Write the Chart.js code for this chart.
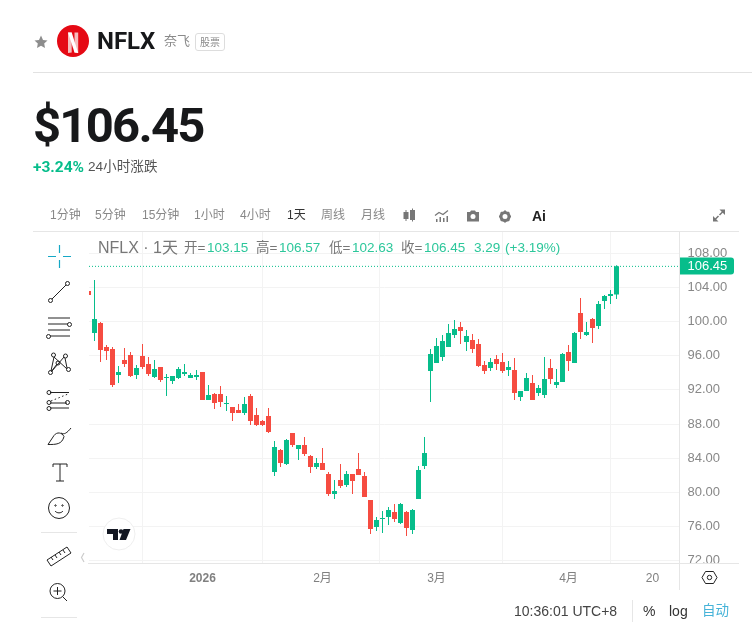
<!DOCTYPE html>
<html lang="zh"><head><meta charset="utf-8">
<script src="https://cdn.jsdelivr.net/npm/chart.js@4/dist/chart.umd.min.js"></script>
<style>
html,body{margin:0;padding:0;background:#fff;width:752px;height:629px;overflow:hidden}
body{font-family:"Liberation Sans","Noto Sans CJK SC",sans-serif;position:relative}
canvas#c{position:absolute;left:0;top:0}
.t{position:absolute;white-space:nowrap;line-height:1}
.l{position:absolute;background:#e6e6e6}
svg{position:absolute;overflow:visible}
.tb{font-size:12px;color:#888;top:209px}
.lg{font-size:13.5px;top:241px;color:#777}
.g{color:#2cc79b}
.ic{fill:none;stroke:#222;stroke-width:1}
</style></head><body>
<canvas id="c" width="752" height="629"></canvas>

<svg style="left:0;top:0" width="752" height="629">
<polygon points="41,35.500 43,40 47.500,40.500 44.200,43.500 45,48 41,45.700 37,48 37.800,43.500 34.500,40.500 39,40" fill="#8d8d8d"/>
<circle cx="73" cy="41" r="16" fill="#e50914"/>
<path d="M68 32.500h3.700v20l-3.700.5z" fill="#f5bcbc"/><path d="M74.500 32.500h3.700v20.500l-3.700-.5z" fill="#f5bcbc"/>
<path d="M68 32.500h3.700l6.500 20.500-3.700-.5z" fill="#fff"/>
</svg>
<div class="t" style="left:97px;top:29px;font-size:24px;font-weight:700;color:#17181a;font-family:Roboto">NFLX</div>
<div class="t" style="left:164px;top:34px;font-size:13px;color:#8a8a8a">奈飞</div>
<div class="t" style="left:195px;top:33px;width:28px;height:16px;border:1px solid #ddd;border-radius:3px;font-size:10px;color:#888;text-align:center;line-height:17px">股票</div>
<div class="l" style="left:33px;top:72px;width:719px;height:1px;background:#e2e2e2"></div>
<div class="t" style="left:33px;top:101px;font-size:49px;font-weight:700;color:#17181a;font-family:Roboto;letter-spacing:-1.75px">$106.45</div>
<div class="t" style="left:33px;top:160px;font-size:15.5px;font-weight:700;color:#07bd8b;font-family:Roboto">+3.24%</div>
<div class="t" style="left:88px;top:160px;font-size:13.6px;color:#555">24小时涨跌</div>

<div class="t tb" style="left:50px">1分钟</div><div class="t tb" style="left:95px">5分钟</div><div class="t tb" style="left:142px">15分钟</div>
<div class="t tb" style="left:194px">1小时</div><div class="t tb" style="left:240px">4小时</div><div class="t tb" style="left:287px;color:#333">1天</div>
<div class="t tb" style="left:321px">周线</div><div class="t tb" style="left:361px">月线</div>
<svg style="left:0;top:0" width="752" height="629">
<g fill="#777" stroke="#777">
<rect x="404" y="212.500" width="4" height="6"/><rect x="410.500" y="210.500" width="4" height="9"/><path d="M406 210v11M412.500 208.500v13" fill="none"/>
<path d="M435 215.500l4-3 4 2 5-4" fill="none" stroke-width="1.200"/>
<rect x="436" y="219" width="1.500" height="3" stroke="none"/><rect x="439.500" y="217" width="1.500" height="5" stroke="none"/><rect x="443" y="218" width="1.500" height="4" stroke="none"/><rect x="446.500" y="216" width="1.500" height="6" stroke="none"/>
<path d="M467 212h3l1-1.500h4l1 1.500h3v9.500h-12z" stroke="none"/><circle cx="473" cy="216.500" r="2.500" fill="#fff" stroke="none"/>
<circle cx="505" cy="216.500" r="4" fill="none" stroke-width="3"/><path d="M505 210.500v2.500M505 220v2.500M499 216.500h2.500M508.500 216.500h2.500M500.800 212.300l1.800 1.800M507.400 218.900l1.800 1.800M500.800 220.700l1.800-1.800M507.400 214.100l1.800-1.800" stroke-width="2"/>
<path d="M713 216v5.500h5.500zM725 215v-5.500h-5.500z" stroke="none"/><path d="M715 219.500l3.500-3.500M723 211.500l-3.500 3.500" stroke-width="1.500"/>
</g></svg>
<div class="t" style="left:532px;top:209px;font-size:14px;font-weight:700;color:#222">Ai</div>

<div class="t" style="left:98px;top:240px;font-size:16px;color:#777">NFLX · 1天</div>
<div class="t lg" style="left:184px">开=</div><div class="t lg g" style="left:207px">103.15</div>
<div class="t lg" style="left:256px">高=</div><div class="t lg g" style="left:279px">106.57</div>
<div class="t lg" style="left:329px">低=</div><div class="t lg g" style="left:352px">102.63</div>
<div class="t lg" style="left:401px">收=</div><div class="t lg g" style="left:424px">106.45</div>
<div class="t lg g" style="left:474px">3.29</div><div class="t lg g" style="left:505px">(+3.19%)</div>

<div class="l" style="left:33px;top:231px;width:706px;height:1px"></div>
<div style="position:absolute;left:680px;top:564px;width:60px;height:8px;background:#fff"></div>
<div class="l" style="left:88px;top:563px;width:651px;height:1px"></div>
<div class="l" style="left:679px;top:232px;width:1px;height:358px"></div>

<svg style="left:0;top:0" width="752" height="629">
<path d="M48 256.500h8M63 256.500h8M59.500 245v8M59.500 260v8" stroke="#16a8c6" stroke-width="1.200" fill="none"/>
<g class="ic">
<circle cx="50.500" cy="300.500" r="2"/><circle cx="67.500" cy="283.500" r="2"/><path d="M52 299l14-14"/>
<path d="M48 318h22M48 324h20M48 330h22M50 336h20"/><circle cx="69.500" cy="324.500" r="2"/><circle cx="48.500" cy="336.500" r="2"/>
<circle cx="53.500" cy="355" r="2"/><circle cx="65.500" cy="356" r="2"/><circle cx="50.500" cy="372.500" r="2"/><circle cx="68.500" cy="369.500" r="2"/><circle cx="58" cy="363" r="2"/>
<path d="M51 371l3-14M67 368l-2-10M52 371l12-14M54 357l13 12M51 372l6-8"/>
<path d="M50 392.500h19M50 403h17M50 408h19"/><circle cx="49" cy="392.500" r="2"/><circle cx="49" cy="402.500" r="2"/><circle cx="49" cy="408.500" r="2"/><circle cx="67.500" cy="402.500" r="2"/>
<path d="M51 401l17-7" stroke-dasharray="1.500 2.500"/>
<path d="M48 444.500c8 0 14 0 16-8 -2-4-7-5-10-1-2 3-4 6-6 9zM61 433c3 2 6 0 10-5"/>
<path d="M53 464h14M60 464v17M56 481h8M53 464v3M67 464v3"/>
<circle cx="59" cy="508" r="10.500"/><circle cx="55.500" cy="505.500" r=".7"/><circle cx="62.500" cy="505.500" r=".7"/><path d="M55 511c2 2.500 6 2.500 8 0"/>
<path d="M47 560l20-13 4 6-20 13zM51 557l2 3M55 555l2 3M59 552l2 3M63 550l2 3"/>
<circle cx="57.500" cy="591" r="7.500"/><path d="M53.500 591h8M57.500 587v8M63 597l4 4"/>
</g>
<path d="M84 553l-2.500 4.500 2.500 4.500" stroke="#ccc" stroke-width="1.200" fill="none"/>
<path d="M705.500 571.500h8l3.500 6-3.500 6h-8l-3.500-6z" class="ic"/>
<circle cx="709.500" cy="577.500" r="2.200" class="ic"/>
<circle cx="119" cy="534" r="16" fill="#fff" stroke="#eee"/>
<path d="M107 529h11v11h-5v-6h-6zM123.500 529h7l-4.500 11h-6.500z" fill="#131722"/><circle cx="121" cy="531.500" r="2.300" fill="#131722"/>
</svg>
<div class="l" style="left:41px;top:532px;width:36px;height:1px"></div>
<div class="l" style="left:41px;top:617px;width:36px;height:1px"></div>

<div class="t" style="left:514px;top:604px;font-size:14px;color:#444">10:36:01 UTC+8</div>
<div class="l" style="left:632px;top:600px;width:1px;height:22px"></div>
<div class="t" style="left:643px;top:604px;font-size:14px;color:#333">%</div>
<div class="t" style="left:669px;top:604px;font-size:14px;color:#333">log</div>
<div class="t" style="left:702px;top:604px;font-size:13.500px;color:#46b3d8">自动</div>

<script>
const opens  = [103.57,98.66,99.82,97.02,96.78,93.74,95.50,96.08,93.74,95.97,95.03,93.51,94.68,93.39,93.04,93.39,93.86,93.39,93.51,94.09,90.82,91.52,91.52,90.35,90.00,89.65,89.30,91.29,89.06,88.36,88.95,82.40,84.97,83.33,86.96,85.09,85.56,84.27,82.98,83.45,82.16,79.83,81.46,80.88,82.16,82.75,81.93,79.12,75.97,76.90,77.14,77.72,76.43,77.72,75.61,79.24,83.10,94.21,95.15,95.85,97.02,98.42,99.36,97.60,97.84,97.37,94.91,94.56,95.61,95.26,94.33,94.33,91.17,91.87,92.81,91.64,91.40,94.56,92.57,92.92,96.43,95.15,101.00,98.42,100.29,99.47,102.40,102.98,103.15];
const closes = [103.10,100.29,96.67,96.55,92.57,94.09,95.03,93.63,94.56,94.68,93.86,94.44,93.16,93.51,93.63,94.44,94.09,93.74,93.74,90.82,91.40,90.47,90.59,90.47,89.30,89.30,90.35,88.36,87.90,87.90,87.08,85.32,83.45,86.14,85.56,85.56,84.50,82.98,83.45,82.63,79.83,80.18,80.76,82.16,81.35,82.05,79.47,75.73,76.78,77.02,77.95,76.90,78.66,75.85,77.95,82.63,84.62,96.20,97.13,97.72,98.66,99.12,98.89,98.30,96.78,94.80,94.21,95.26,95.03,94.21,94.68,91.64,91.87,93.39,90.82,92.22,93.28,93.28,92.92,96.20,95.38,98.66,98.77,98.77,99.24,102.05,102.98,103.22,106.45];
const highs  = [103.57,104.85,99.94,97.25,97.02,94.80,96.90,96.43,94.91,97.37,95.85,95.50,94.68,93.86,93.63,94.68,95.03,93.98,94.33,94.09,92.57,91.64,92.46,91.29,90.00,90.35,91.17,91.52,89.88,88.48,89.88,86.02,85.09,86.26,86.96,85.56,86.49,84.39,84.04,85.21,82.40,81.46,83.33,82.52,82.16,84.62,82.40,79.12,77.14,77.84,78.30,78.66,78.77,77.84,78.07,83.10,86.49,96.78,98.07,98.42,99.71,100.18,99.94,99.01,98.54,97.95,95.38,95.73,96.08,96.32,95.38,95.73,91.87,93.98,93.74,92.57,95.85,95.61,94.44,96.32,97.25,98.77,102.75,99.94,100.41,102.40,103.10,103.68,106.57];
const lows   = [103.10,97.72,95.26,95.50,92.34,92.81,94.68,93.51,93.28,94.44,93.63,93.39,92.92,91.29,92.69,93.28,93.63,93.39,93.16,90.82,90.82,89.77,90.00,89.53,88.36,89.30,89.06,87.90,87.78,87.78,86.96,81.93,82.98,83.22,85.32,83.80,84.27,82.28,82.75,82.63,79.59,79.24,80.53,80.64,79.83,82.05,79.47,75.15,75.50,75.26,76.20,76.55,76.32,74.91,75.15,79.24,82.75,90.59,95.15,95.38,97.02,98.07,97.37,96.55,96.32,94.68,93.86,94.21,94.33,93.98,93.63,90.82,90.70,91.87,90.82,91.29,91.05,92.69,92.22,92.92,94.21,95.15,97.95,98.30,97.49,99.12,101.46,102.05,102.63];
const priceTicks = [72,76,80,84,88,92,96,100,104,108];
const timeTickIndex = [19,39,58,80,94];
const timeTickLabels = ['2026','2月','3月','4月','20'];
const lastPrice = 106.45;
const UP = '#07bd8b', DOWN = '#f64c41';

const colors = closes.map((c,i)=> c>=opens[i] ? UP : DOWN);
const bodies = closes.map((c,i)=>({x:i,y:[opens[i],c]}));
const wicks  = highs.map((h,i)=>({x:i,y:[lows[i],h]}));
const family = '"Liberation Sans","Noto Sans CJK SC",sans-serif';
const xMin = 0.0833, xMax = 98.5;

const lastPriceTag = {
  id:'lastPriceTag',
  afterDraw(chart){
    const {ctx,scales:{y},chartArea:a}=chart;
    const py=y.getPixelForValue(lastPrice);
    ctx.save();
    ctx.fillStyle=UP;
    ctx.beginPath();
    ctx.roundRect(a.right+.5,Math.round(py)-8.5,54,17,[0,3,3,0]);
    ctx.fill();
    ctx.fillStyle='#fff';
    ctx.font='13px '+family;
    ctx.textBaseline='middle';ctx.textAlign='left';
    ctx.fillText(lastPrice.toFixed(2),a.right+8,Math.round(py)+.5);
    ctx.restore();
  }
};

new Chart(document.getElementById('c'),{
  type:'bar',
  data:{datasets:[
    {type:'line',data:[{x:xMin,y:lastPrice},{x:xMax,y:lastPrice}],borderColor:UP,borderWidth:1,borderDash:[1,2],pointRadius:0,order:0},
    {data:wicks,backgroundColor:colors,barThickness:1,grouped:false,inflateAmount:0,order:2},
    {data:bodies,backgroundColor:colors,barThickness:5,grouped:false,inflateAmount:0,order:1}
  ]},
  options:{
    responsive:false,animation:false,devicePixelRatio:1,
    layout:{padding:{left:89,top:232,right:0,bottom:38.7}},
    plugins:{legend:{display:false},tooltip:{enabled:false}},
    scales:{
      x:{type:'linear',min:xMin,max:xMax,offset:false,
        grid:{color:'#f3f3f3',drawTicks:false},border:{display:false},
        afterBuildTicks(s){s.ticks=timeTickIndex.map(v=>({value:v}));},
        afterFit(s){s.height=27;},
        ticks:{autoSkip:false,maxRotation:0,padding:8,color:'#808080',
          font:c=>({size:12,family,weight:c.index===0?'bold':'normal'}),
          callback:v=>timeTickLabels[timeTickIndex.indexOf(v)]}},
      y:{position:'right',min:71.72,max:110.47,
        grid:{color:'#f3f3f3',drawTicks:false},border:{display:false},
        afterBuildTicks(s){s.ticks=priceTicks.map(v=>({value:v}));},
        afterFit(s){s.width=72.5;},
        ticks:{padding:8,color:'#888',font:{size:13,family},callback:v=>v.toFixed(2)}}
    }
  },
  plugins:[lastPriceTag]
});
</script>
</body></html>
